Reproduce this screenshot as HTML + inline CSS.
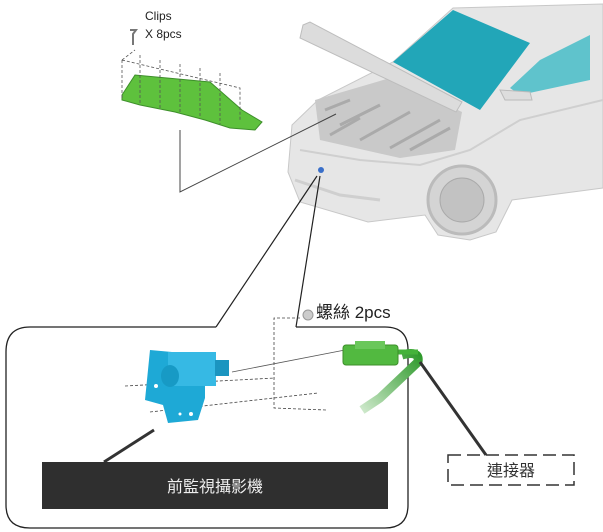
<!DOCTYPE html>
<html><head><meta charset="utf-8"><style>
html,body{margin:0;padding:0;background:#fff;}
svg{display:block;}
text{font-family:"Liberation Sans","Noto Sans CJK TC",sans-serif;}
</style></head><body>
<svg width="603" height="532" viewBox="0 0 603 532" xmlns="http://www.w3.org/2000/svg">
<defs>
<linearGradient id="cab" x1="1" y1="0" x2="0" y2="1"><stop offset="0" stop-color="#2f9a2c"/><stop offset="1" stop-color="#cde8ca"/></linearGradient>
</defs>
<path d="M292,125 L318,100 L393,62 L453,8 L603,4 L603,188 L512,200 L496,232 L470,240 L438,235 L425,215 L368,222 L300,202 L288,172 Z" fill="#e6e6e6" stroke="#c8c8c8"/>
<path d="M300,150 L360,160 L420,165 L470,150 L520,120 L603,100" fill="none" stroke="#cfcfcf" stroke-width="2"/>
<path d="M295,180 L340,195 L380,200" fill="none" stroke="#cfcfcf" stroke-width="3"/>
<path d="M315,100 L390,78 L462,112 L455,150 L400,158 L320,140 Z" fill="#c9c9c9"/>
<path d="M325,110 L350,100 M340,125 L380,105 M360,140 L410,112 M390,148 L440,120 M330,135 L360,118 M410,150 L450,128" stroke="#aaa" stroke-width="3"/>
<path d="M393,62 L453,10 L530,43 L480,110 Z" fill="#22a6b8"/>
<path d="M510,88 L540,60 L590,35 L590,80 L520,95 Z" fill="#5fc3cc"/>
<path d="M500,90 L530,92 L532,100 L505,100 Z" fill="#ddd" stroke="#bbb"/>
<path d="M303,25 L310,22 L462,102 L456,112 L300,38 Z" fill="#dcdcdc" stroke="#bdbdbd"/>
<circle cx="462" cy="200" r="34" fill="#d4d4d4" stroke="#bbb" stroke-width="3"/>
<circle cx="462" cy="200" r="22" fill="#c2c2c2" stroke="#aaa"/>
<circle cx="321" cy="170" r="3" fill="#3a6fc9"/>
<path d="M122,95 L135,75 L210,82 L242,110 L262,122 L255,130 L230,128 L205,120 L175,112 L140,105 L122,100 Z" fill="#5ec13d" stroke="#3d8f2a"/>
<g stroke="#555" stroke-dasharray="3,2" fill="none" stroke-width="0.8">
<path d="M122,60 L122,98 M122,60 L240,88 L240,120 M140,55 L140,104 M160,60 L160,108 M180,64 L180,112 M200,68 L200,118 M220,73 L220,124 M122,60 L135,50"/>
</g>
<path d="M130,30 L136,30 L133,34 L133,45" stroke="#777" stroke-width="2" fill="none"/>
<text x="145" y="20" font-size="12" fill="#222">Clips</text>
<text x="145" y="38" font-size="12" fill="#222">X 8pcs</text>
<path d="M180,130 L180,192 L336,114" fill="none" stroke="#444" stroke-width="1"/>
<path d="M216,327 L30,327 Q6,327 6,352 L6,505 Q6,528 30,528 L385,528 Q408,528 408,505 L408,350 Q408,327 385,327 L296,327" fill="none" stroke="#222" stroke-width="1.3"/>
<path d="M216,327 L317,176 M296,327 L320,176" stroke="#222" stroke-width="1.2" fill="none"/>
<circle cx="308" cy="315" r="5" fill="#ccc" stroke="#999"/>
<text x="316" y="318" font-size="17" fill="#222">螺絲 2pcs</text>
<g stroke="#444" stroke-dasharray="3,2" fill="none" stroke-width="0.8">
<path d="M300,318 L274,318 L274,408 L326,410"/>
<path d="M125,386 L275,378 M150,412 L318,393"/>
</g>
<path d="M232,372 L345,350" stroke="#555" stroke-width="0.8"/>
<path d="M150,350 L205,355 L205,398 L198,420 L168,423 L163,405 L145,400 Z" fill="#1ea9d6"/>
<rect x="168" y="352" width="48" height="34" fill="#36b9e4"/>
<rect x="215" y="360" width="14" height="16" fill="#1b95c0"/>
<ellipse cx="170" cy="376" rx="9" ry="11" fill="#179ac5"/>
<circle cx="156" cy="386" r="2" fill="#fff"/><circle cx="191" cy="414" r="2" fill="#fff"/><circle cx="180" cy="414" r="1.5" fill="#fff"/>
<path d="M402,355 Q420,350 418,362 L380,398 L362,410" stroke="url(#cab)" stroke-width="9" fill="none"/>
<path d="M395,352 L418,352" stroke="#44b23a" stroke-width="5"/>
<rect x="343" y="345" width="55" height="20" rx="3" fill="#52b940" stroke="#3d8f2a"/>
<rect x="355" y="341" width="30" height="8" fill="#6ac75a"/>
<path d="M154,430 L104,462" stroke="#333" stroke-width="3"/>
<path d="M420,362 L486,455" stroke="#333" stroke-width="3"/>
<rect x="42" y="462" width="346" height="47" fill="#2f2f2f"/>
<text x="215" y="492" font-size="16" fill="#eee" text-anchor="middle">前監視攝影機</text>
<rect x="448" y="455" width="126" height="30" fill="none" stroke="#333" stroke-width="1.5" stroke-dasharray="13,6"/>
<text x="511" y="476" font-size="16" fill="#333" text-anchor="middle">連接器</text>
</svg>
</body></html>
